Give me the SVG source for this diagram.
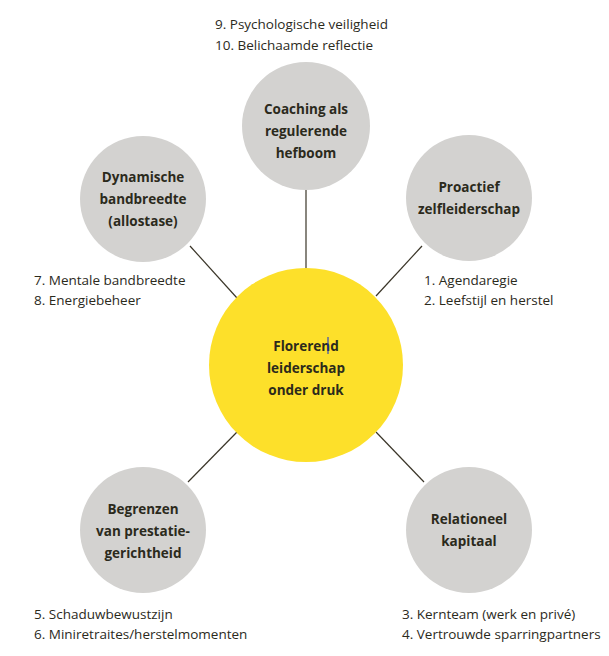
<svg xmlns="http://www.w3.org/2000/svg" width="609" height="656" viewBox="0 0 609 656">
<style>
.s{fill:#d3d2d0}
.t{font-family:"Open Sans","Liberation Sans",sans-serif;font-size:13.5px;font-weight:bold;fill:#2b2a1c;text-anchor:middle}
.l{font-family:"Open Sans","Liberation Sans",sans-serif;font-size:13.5px;fill:#2b2a1c}
line{stroke:#3a3528;stroke-width:1.2}
</style>
<rect width="609" height="656" fill="#fff"/>
<g id="connectors">
<line x1="306" y1="190" x2="306" y2="268"/>
<line x1="190" y1="246" x2="237" y2="298"/>
<line x1="422" y1="246" x2="376" y2="296"/>
<line x1="237" y1="432" x2="188" y2="482"/>
<line x1="376" y1="432" x2="424" y2="482"/>
</g>
<g id="center"><circle cx="306" cy="365" r="97" fill="#fde02a"/>
<text class="t" x="306" y="351">Florerend</text><text class="t" x="306" y="373">leiderschap</text><text class="t" x="306" y="395">onder druk</text>
<line x1="328" y1="337" x2="328" y2="354" style="stroke:#1030d0;stroke-width:1"/></g>
<g id="n-top"><circle class="s" cx="306" cy="126" r="64"/>
<text class="t" x="306" y="114">Coaching als</text><text class="t" x="306" y="136">regulerende</text><text class="t" x="306" y="158">hefboom</text></g>
<g id="n-lt"><circle class="s" cx="143" cy="199" r="63"/>
<text class="t" x="143" y="182">Dynamische</text><text class="t" x="143" y="204">bandbreedte</text><text class="t" x="143" y="226">(allostase)</text></g>
<g id="n-rt"><circle class="s" cx="469" cy="198" r="63"/>
<text class="t" x="469" y="192">Proactief</text><text class="t" x="469" y="214">zelfleiderschap</text></g>
<g id="n-lb"><circle class="s" cx="143" cy="530" r="63"/>
<text class="t" x="143" y="514">Begrenzen</text><text class="t" x="143" y="536">van prestatie-</text><text class="t" x="143" y="558">gerichtheid</text></g>
<g id="n-rb"><circle class="s" cx="469" cy="530" r="63"/>
<text class="t" x="469" y="524">Relationeel</text><text class="t" x="469" y="546">kapitaal</text></g>
<g id="labels">
<text class="l" x="215" y="29">9. Psychologische veiligheid</text><text class="l" x="215" y="50">10. Belichaamde reflectie</text>
<text class="l" x="34" y="285">7. Mentale bandbreedte</text><text class="l" x="34" y="305">8. Energiebeheer</text>
<text class="l" x="424" y="285">1. Agendaregie</text><text class="l" x="424" y="305">2. Leefstijl en herstel</text>
<text class="l" x="34" y="619">5. Schaduwbewustzijn</text><text class="l" x="34" y="639">6. Miniretraites/herstelmomenten</text>
<text class="l" x="402" y="619">3. Kernteam (werk en privé)</text><text class="l" x="402" y="639">4. Vertrouwde sparringpartners</text>
</g>
</svg>
